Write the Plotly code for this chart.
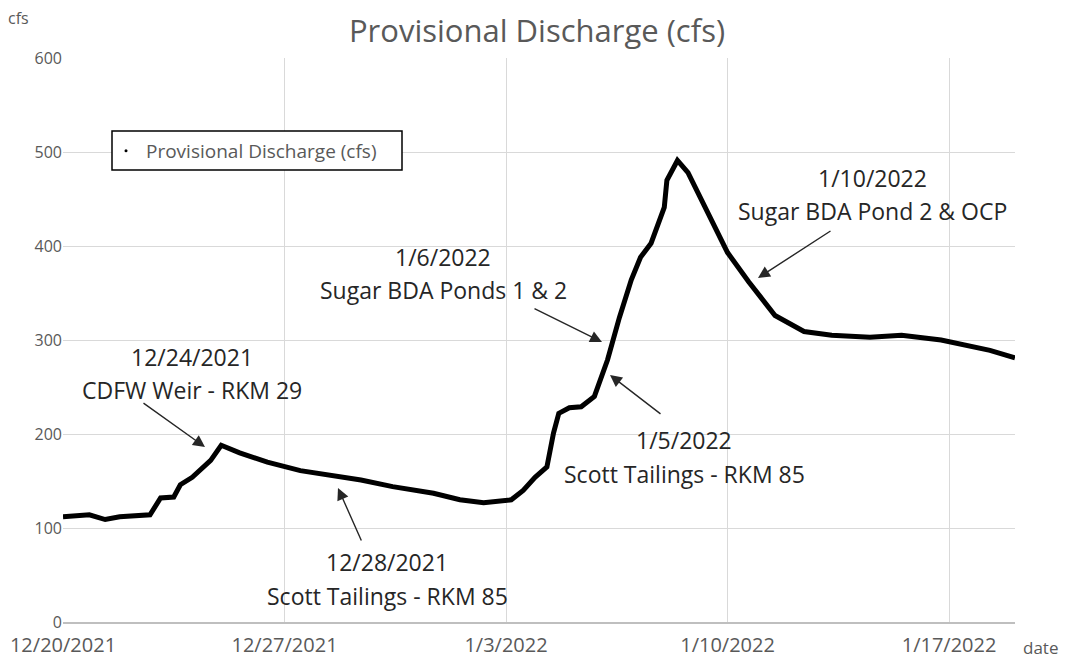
import plotly.graph_objects as go

times = [
    "2021-12-20 00:00", "2021-12-20 20:00", "2021-12-21 08:00", "2021-12-21 19:00",
    "2021-12-22 18:00", "2021-12-22 22:00", "2021-12-23 02:00", "2021-12-23 12:00",
    "2021-12-23 17:00", "2021-12-24 02:00", "2021-12-24 16:00", "2021-12-25 00:00",
    "2021-12-25 14:00", "2021-12-26 11:00", "2021-12-27 12:00", "2021-12-29 10:00",
    "2021-12-30 10:00", "2021-12-31 17:00", "2022-01-01 13:00", "2022-01-02 07:00",
    "2022-01-03 04:00", "2022-01-03 13:00", "2022-01-03 22:00", "2022-01-04 07:00",
    "2022-01-04 12:00", "2022-01-04 16:00", "2022-01-05 00:00", "2022-01-05 09:00",
    "2022-01-05 19:00", "2022-01-06 05:00", "2022-01-06 14:00", "2022-01-06 23:00",
    "2022-01-07 06:00", "2022-01-07 14:00", "2022-01-08 00:00", "2022-01-08 02:00",
    "2022-01-08 10:00", "2022-01-08 18:00", "2022-01-09 10:00", "2022-01-10 00:00",
    "2022-01-10 16:00", "2022-01-11 12:00", "2022-01-12 10:00", "2022-01-13 07:00",
    "2022-01-14 12:00", "2022-01-15 12:00", "2022-01-16 18:00", "2022-01-17 10:00",
    "2022-01-18 07:00", "2022-01-19 02:00",
]
discharge = [
    112, 114, 109, 112,
    114, 124, 132, 133,
    146, 154, 172, 188,
    180, 170, 161, 151,
    144, 137, 130, 127,
    130, 140, 154, 165,
    201, 222, 228, 229,
    240, 279, 324, 364,
    388, 403, 441, 470,
    491, 478, 432, 393,
    362, 326, 309, 305,
    303, 305, 300, 295,
    289, 281,
]

tick_vals = ["2021-12-20", "2021-12-27", "2022-01-03", "2022-01-10", "2022-01-17"]
tick_text = ["12/20/2021", "12/27/2021", "1/3/2022", "1/10/2022", "1/17/2022"]

note_dates = ["12/24/2021", "12/28/2021", "1/6/2022", "1/5/2022", "1/10/2022"]
note_labels = ["CDFW Weir - RKM 29", "Scott Tailings - RKM 85", "Sugar BDA Ponds 1 & 2",
               "Scott Tailings - RKM 85", "Sugar BDA Pond 2 & OCP"]

# layout positions (screen px)
note_text_pos = [(192, 357, 390), (387, 562, 596), (443, 257, 290), (684, 440, 474), (872, 178, 211)]
note_arrows = [((205, 447), (142, 402)), ((338, 488), (362, 542)), ((602, 342), (533, 308)),
               ((610, 375), (662, 415)), ((758, 278), (832, 230))]

FONT = "Open Sans"
GRAY = "#595959"
DARK = "#262626"

W, H = 1066, 660
PL, PR, PT, PB = 63, 1015, 58, 622  # plot area in screen px
L, R, T, B = PL, W - PR, PT, H - PB
pw, ph = PR - PL, PB - PT


def px(sx):
    return (sx - PL) / pw


def py(sy):
    return 1 - (sy - PT) / ph


fig = go.Figure()
fig.add_trace(go.Scatter(x=times, y=discharge, mode="lines",
                         line=dict(color="black", width=5), showlegend=False,
                         name="Provisional Discharge (cfs)"))
fig.add_trace(go.Scatter(x=[None], y=[None], mode="markers",
                         marker=dict(color="black", size=3),
                         name="Provisional Discharge (cfs)", showlegend=True))

for (head, tail) in note_arrows:
    fig.add_annotation(x=px(head[0]), y=py(head[1]), xref="paper", yref="paper",
                       ax=tail[0] - head[0], ay=tail[1] - head[1],
                       showarrow=True, arrowhead=2, arrowsize=1.7, arrowwidth=1.4,
                       arrowcolor="#262626", text="")

for d, lab, (tx, ty1, ty2) in zip(note_dates, note_labels, note_text_pos):
    fig.add_annotation(x=px(tx), y=py(ty1), xref="paper", yref="paper", text=d,
                       showarrow=False, font=dict(family=FONT, size=23, color=DARK),
                       xanchor="center", yanchor="middle")
    fig.add_annotation(x=px(tx), y=py(ty2), xref="paper", yref="paper", text=lab,
                       showarrow=False, font=dict(family=FONT, size=23, color=DARK),
                       xanchor="center", yanchor="middle")

fig.add_annotation(x=px(18), y=py(18), xref="paper", yref="paper", text="cfs",
                   showarrow=False, font=dict(family=FONT, size=16, color=GRAY),
                   xanchor="center", yanchor="middle")
fig.add_annotation(x=px(1040), y=py(647), xref="paper", yref="paper", text="date",
                   showarrow=False, font=dict(family=FONT, size=17, color=GRAY),
                   xanchor="center", yanchor="middle")

# legend box
fig.add_shape(type="rect", xref="paper", yref="paper",
              x0=px(112), x1=px(402), y0=py(131), y1=py(170),
              line=dict(color="black", width=1.5), fillcolor="white", layer="above")

fig.update_layout(
    width=W, height=H,
    margin=dict(l=L, r=R, t=T, b=B, autoexpand=False),
    paper_bgcolor="white", plot_bgcolor="white",
    title=dict(text="Provisional Discharge (cfs)", x=537 / W, xanchor="center",
               y=1 - 31 / H, yanchor="middle",
               font=dict(family=FONT, size=31, color=GRAY)),
    legend=dict(x=px(106), y=py(151), xanchor="left", yanchor="middle",
                borderwidth=0, bgcolor="rgba(0,0,0,0)",
                font=dict(family=FONT, size=19, color=GRAY), itemwidth=30),
    font=dict(family=FONT, color=GRAY),
)
fig.update_xaxes(range=["2021-12-20", "2022-01-19 02:00"], tickvals=tick_vals, ticktext=tick_text,
                 showgrid=True, gridcolor="#d9d9d9", gridwidth=1, automargin=False,
                 showline=True, linecolor="#bfbfbf", linewidth=1.5, ticklabelstandoff=4,
                 tickfont=dict(family=FONT, size=20, color=GRAY), ticks="", zeroline=False)
fig.update_yaxes(range=[0, 600], dtick=100, showgrid=True, gridcolor="#d9d9d9", gridwidth=1,
                 automargin=False,
                 tickfont=dict(family=FONT, size=16, color=GRAY), ticks="", zeroline=False,
                 showline=False)

fig.write_html("out.html", config={"displayModeBar": False},
               post_script="document.body.style.margin='0';document.body.style.overflow='hidden';")
